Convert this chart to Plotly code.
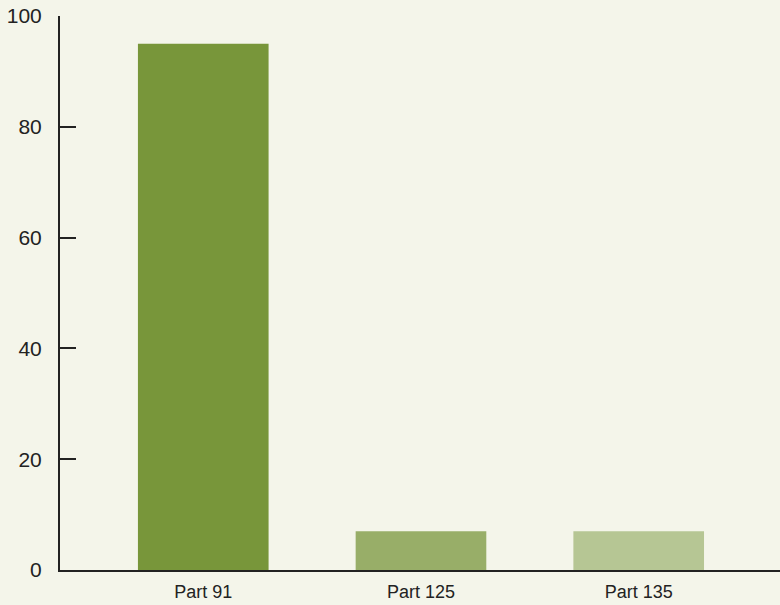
import plotly.graph_objects as go

categories = ["Part 91", "Part 125", "Part 135"]
values = [95, 7, 7]
colors = ["#78963a", "#98ae68", "#b6c694"]
y_ticks = [0, 20, 40, 60, 80, 100]

fig = go.Figure(go.Bar(
    x=categories, y=values, marker=dict(color=colors, line=dict(width=0)),
    width=0.6, hoverinfo="skip"))

fig.update_layout(
    width=780, height=605,
    margin=dict(l=60, r=0, t=16, b=35),
    paper_bgcolor="#f4f5ea", plot_bgcolor="#f4f5ea",
    font=dict(family="Liberation Sans, Arial, sans-serif", color="#222222"),
    showlegend=False,
)
fig.update_xaxes(
    range=[-0.658, 2.649], showline=True, linecolor="#222222", linewidth=2,
    showgrid=False, zeroline=False, ticks="", tickfont=dict(size=18),
    ticklabelstandoff=4,
)
fig.update_yaxes(
    range=[0, 100], tickvals=y_ticks, showline=True, linecolor="#222222",
    linewidth=2, showgrid=False, zeroline=False, ticks="inside", ticklen=16,
    tickwidth=2, tickcolor="#222222", tickfont=dict(size=21),
    ticklabelstandoff=12,
)

fig.write_html(
    "out.html",
    config={"displayModeBar": False},
    post_script="document.body.style.margin='0';document.body.style.background='#f4f5ea';",
)
